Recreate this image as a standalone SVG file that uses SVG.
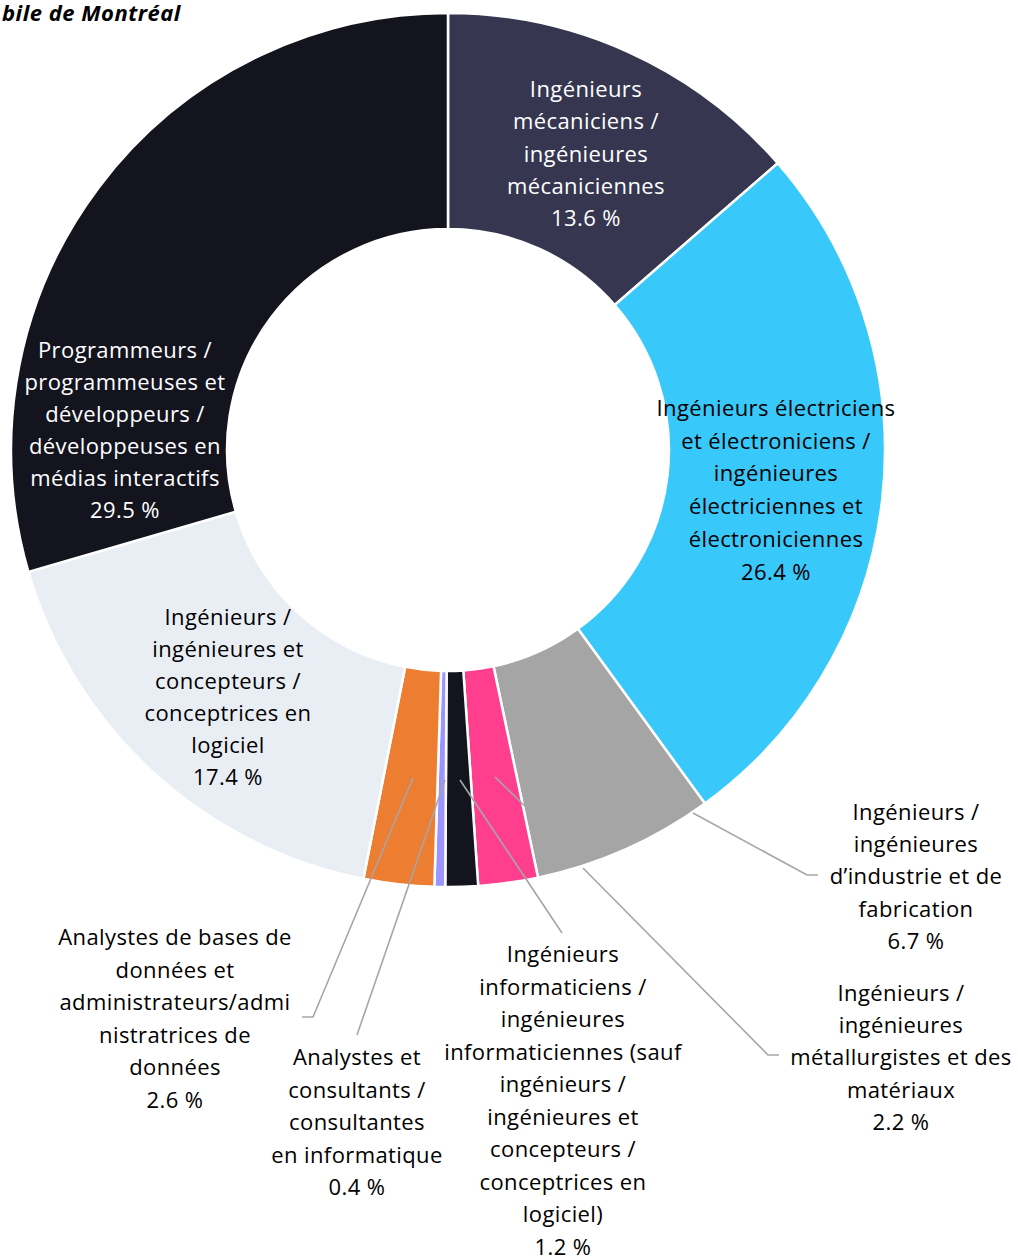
<svg xmlns="http://www.w3.org/2000/svg" width="1018" height="1258" viewBox="0 0 1018 1258">
<style>
.sl{stroke:#fff;stroke-width:2.5;stroke-linejoin:miter}
text{font-family:"Open Sans","Liberation Sans",sans-serif;font-size:22px;letter-spacing:0.4px;text-anchor:middle;fill:#000}
.w{fill:#fff}
.ld{fill:none;stroke:#A6A6A6;stroke-width:1.6}
.title{font-weight:bold;font-style:italic;text-anchor:start;font-size:22px;letter-spacing:0.5px}
</style>
<rect width="1018" height="1258" fill="#fff"/>
<text class="title" x="2" y="21">bile de Montréal</text>
<g id="slices">
<path id="s-mecaniciens" class="sl" fill="#363650" d="M448,13 A437,437 0 0 1 777.7,163.2 L614.7,305 A221,221 0 0 0 448,229 Z"/>
<path id="s-electriciens" class="sl" fill="#38C8FA" d="M777.7,163.2 A437,437 0 0 1 704.9,803.5 L577.9,628.8 A221,221 0 0 0 614.7,305 Z"/>
<path id="s-industrie" class="sl" fill="#A5A5A5" d="M704.9,803.5 A437,437 0 0 1 538,877.6 L493.5,666.3 A221,221 0 0 0 577.9,628.8 Z"/>
<path id="s-metallurgistes" class="sl" fill="#FF3F8E" d="M538,877.6 A437,437 0 0 1 478.2,886 L463.3,670.5 A221,221 0 0 0 493.5,666.3 Z"/>
<path id="s-informaticiens" class="sl" fill="#14141F" d="M478.2,886 A437,437 0 0 1 445.25,887 L446.6,671 A221,221 0 0 0 463.3,670.5 Z"/>
<path id="s-consultants" class="sl" fill="#9C94FF" d="M445.25,887 A437,437 0 0 1 434.3,886.8 L441.1,670.9 A221,221 0 0 0 446.6,671 Z"/>
<path id="s-bd" class="sl" fill="#ED7D31" d="M434.3,886.8 A437,437 0 0 1 363.4,878.7 L405.2,666.8 A221,221 0 0 0 441.1,670.9 Z"/>
<path id="s-logiciel" class="sl" fill="#E9EEF5" d="M363.4,878.7 A437,437 0 0 1 28.4,571.9 L235.8,511.7 A221,221 0 0 0 405.2,666.8 Z"/>
<path id="s-programmeurs" class="sl" fill="#14141F" d="M28.4,571.9 A437,437 0 0 1 448,13 L448,229 A221,221 0 0 0 235.8,511.7 Z"/>
</g>
<g id="connectors">
<polyline class="ld" points="693,813 807,875 818,875"/>
<line class="ld" x1="495" y1="777" x2="527" y2="808"/>
<polyline class="ld" points="583,868 768,1055 779,1055"/>
<line class="ld" x1="460" y1="780" x2="562" y2="933"/>
<line class="ld" x1="445" y1="780" x2="357" y2="1035"/>
<polyline class="ld" points="413,778 313,1017 302,1017"/>
</g>
<g id="label-mecaniciens">
<text class="w" x="586" y="97">Ingénieurs</text>
<text class="w" x="586" y="129.3">mécaniciens /</text>
<text class="w" x="586" y="161.6">ingénieures</text>
<text class="w" x="586" y="193.9">mécaniciennes</text>
<text class="w" x="586" y="226.2">13.6 %</text>
</g>
<g id="label-electriciens">
<text x="776" y="416">Ingénieurs électriciens</text>
<text x="776" y="448.7">et électroniciens /</text>
<text x="776" y="481.4">ingénieures</text>
<text x="776" y="514.1">électriciennes et</text>
<text x="776" y="546.8">électroniciennes</text>
<text x="776" y="579.5">26.4 %</text>
</g>
<g id="label-programmeurs">
<text class="w" x="125" y="357.5">Programmeurs /</text>
<text class="w" x="125" y="389.5">programmeuses et</text>
<text class="w" x="125" y="421.5">développeurs /</text>
<text class="w" x="125" y="453.5">développeuses en</text>
<text class="w" x="125" y="485.5">médias interactifs</text>
<text class="w" x="125" y="517.5">29.5 %</text>
</g>
<g id="label-logiciel">
<text x="228" y="625">Ingénieurs /</text>
<text x="228" y="657">ingénieures et</text>
<text x="228" y="689">concepteurs /</text>
<text x="228" y="721">conceptrices en</text>
<text x="228" y="753">logiciel</text>
<text x="228" y="785">17.4 %</text>
</g>
<g id="label-industrie">
<text x="916" y="820">Ingénieurs /</text>
<text x="916" y="852">ingénieures</text>
<text x="916" y="884">d’industrie et de</text>
<text x="916" y="917">fabrication</text>
<text x="916" y="949">6.7 %</text>
</g>
<g id="label-metallurgistes">
<text x="901" y="1001">Ingénieurs /</text>
<text x="901" y="1033">ingénieures</text>
<text x="901" y="1065">métallurgistes et des</text>
<text x="901" y="1098">matériaux</text>
<text x="901" y="1130">2.2 %</text>
</g>
<g id="label-informaticiens">
<text x="563" y="962">Ingénieurs</text>
<text x="563" y="994.5">informaticiens /</text>
<text x="563" y="1027">ingénieures</text>
<text x="563" y="1059.5">informaticiennes (sauf</text>
<text x="563" y="1092">ingénieurs /</text>
<text x="563" y="1124.5">ingénieures et</text>
<text x="563" y="1157">concepteurs /</text>
<text x="563" y="1189.5">conceptrices en</text>
<text x="563" y="1222">logiciel)</text>
<text x="563" y="1254.5">1.2 %</text>
</g>
<g id="label-consultants">
<text x="357" y="1065">Analystes et</text>
<text x="357" y="1097.5">consultants /</text>
<text x="357" y="1130">consultantes</text>
<text x="357" y="1162.5">en informatique</text>
<text x="357" y="1195">0.4 %</text>
</g>
<g id="label-bd">
<text x="175" y="945">Analystes de bases de</text>
<text x="175" y="977.5">données et</text>
<text x="175" y="1010">administrateurs/admi</text>
<text x="175" y="1042.5">nistratrices de</text>
<text x="175" y="1075">données</text>
<text x="175" y="1107.5">2.6 %</text>
</g>
</svg>
